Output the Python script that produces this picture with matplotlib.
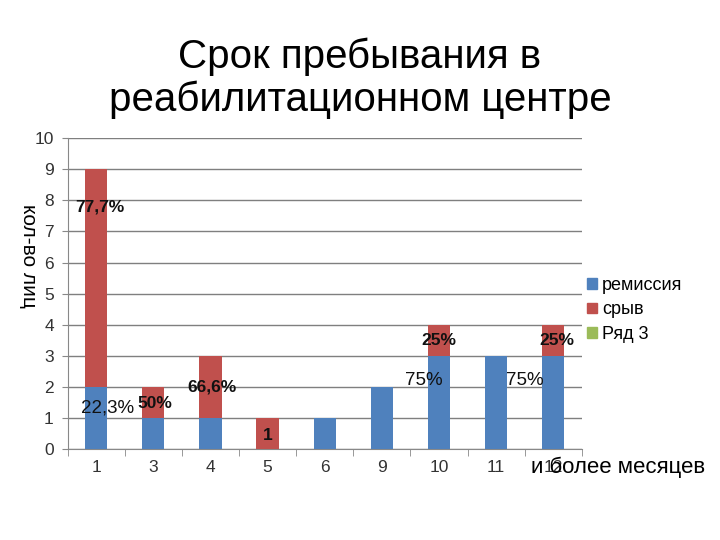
import matplotlib.pyplot as plt
from matplotlib.patches import Patch

plt.rcParams['font.family'] = ['Liberation Sans', 'DejaVu Sans']

# months in the centre
months = ['1', '3', '4', '5', '6', '9', '10', '11', '12']
remission = [2, 1, 1, 0, 1, 2, 3, 3, 3]
relapse = [7, 1, 2, 1, 0, 0, 1, 0, 1]

# percent labels: (x, y, text, bold)
labels = [
    (0.06, 7.78, '77,7%', True),
    (0.2, 1.32, '22,3%', False),
    (1.02, 1.45, '50%', True),
    (2.02, 2.0, '66,6%', True),
    (3.0, 0.45, '1', True),
    (6.0, 3.5, '25%', True),
    (5.73, 2.2, '75%', False),
    (7.5, 2.2, '75%', False),
    (8.06, 3.5, '25%', True),
]

blue = '#4F81BD'
red = '#C0504D'
green = '#9BBB59'

fig = plt.figure(figsize=(7.2, 5.4), dpi=100)
ax = fig.add_axes([0.094, 0.1685, 0.714, 0.5755])

x = list(range(len(months)))
ax.bar(x, remission, width=0.39, color=blue, zorder=3)
ax.bar(x, relapse, width=0.39, bottom=remission, color=red, zorder=3)

ax.set_xlim(-0.5, len(months) - 0.5)
ax.set_ylim(0, 10)
ax.set_yticks(range(11))
ax.yaxis.grid(True, color='#7f7f7f', linewidth=1, zorder=0)
ax.tick_params(axis='y', length=4, color='#888888', labelsize=12.5, pad=6,
               labelcolor='#333333')

ax.set_xticks(x)
ax.set_xticklabels(months, fontsize=12.5, color='#333333')
ax.set_xticks([i + 0.5 for i in range(-1, len(months))], minor=True)
ax.tick_params(axis='x', which='major', length=0, pad=8)
ax.tick_params(axis='x', which='minor', length=5, color='#888888')

for side in ['top', 'right']:
    ax.spines[side].set_visible(False)
ax.spines['left'].set_color('#888888')
ax.spines['bottom'].set_color('#888888')

for lx, ly, txt, bold in labels:
    ax.text(lx, ly, txt, ha='center', va='center', fontsize=12.5 if bold else 13.5,
            fontweight='bold' if bold else 'normal', color='#111111', zorder=4)

ax.set_ylabel('кол-во лиц', fontsize=15, rotation=270, labelpad=18)
ax.yaxis.set_label_coords(-0.095, 0.62)

fig.text(0.98, 0.135, 'и более месяцев', ha='right', va='center', fontsize=16)

fig.text(0.5, 0.855, 'Срок пребывания в\nреабилитационном центре', ha='center',
         va='center', fontsize=29, linespacing=1.15)

handles = [Patch(color=blue, label='ремиссия'),
           Patch(color=red, label='срыв'),
           Patch(color=green, label='Ряд 3')]
fig.legend(handles=handles, loc='upper left', bbox_to_anchor=(0.805, 0.5),
           frameon=False, fontsize=13, handlelength=0.55, handleheight=0.55,
           handletextpad=0.3, labelspacing=0.4, borderaxespad=0)

fig.savefig('out.png', dpi=100)
